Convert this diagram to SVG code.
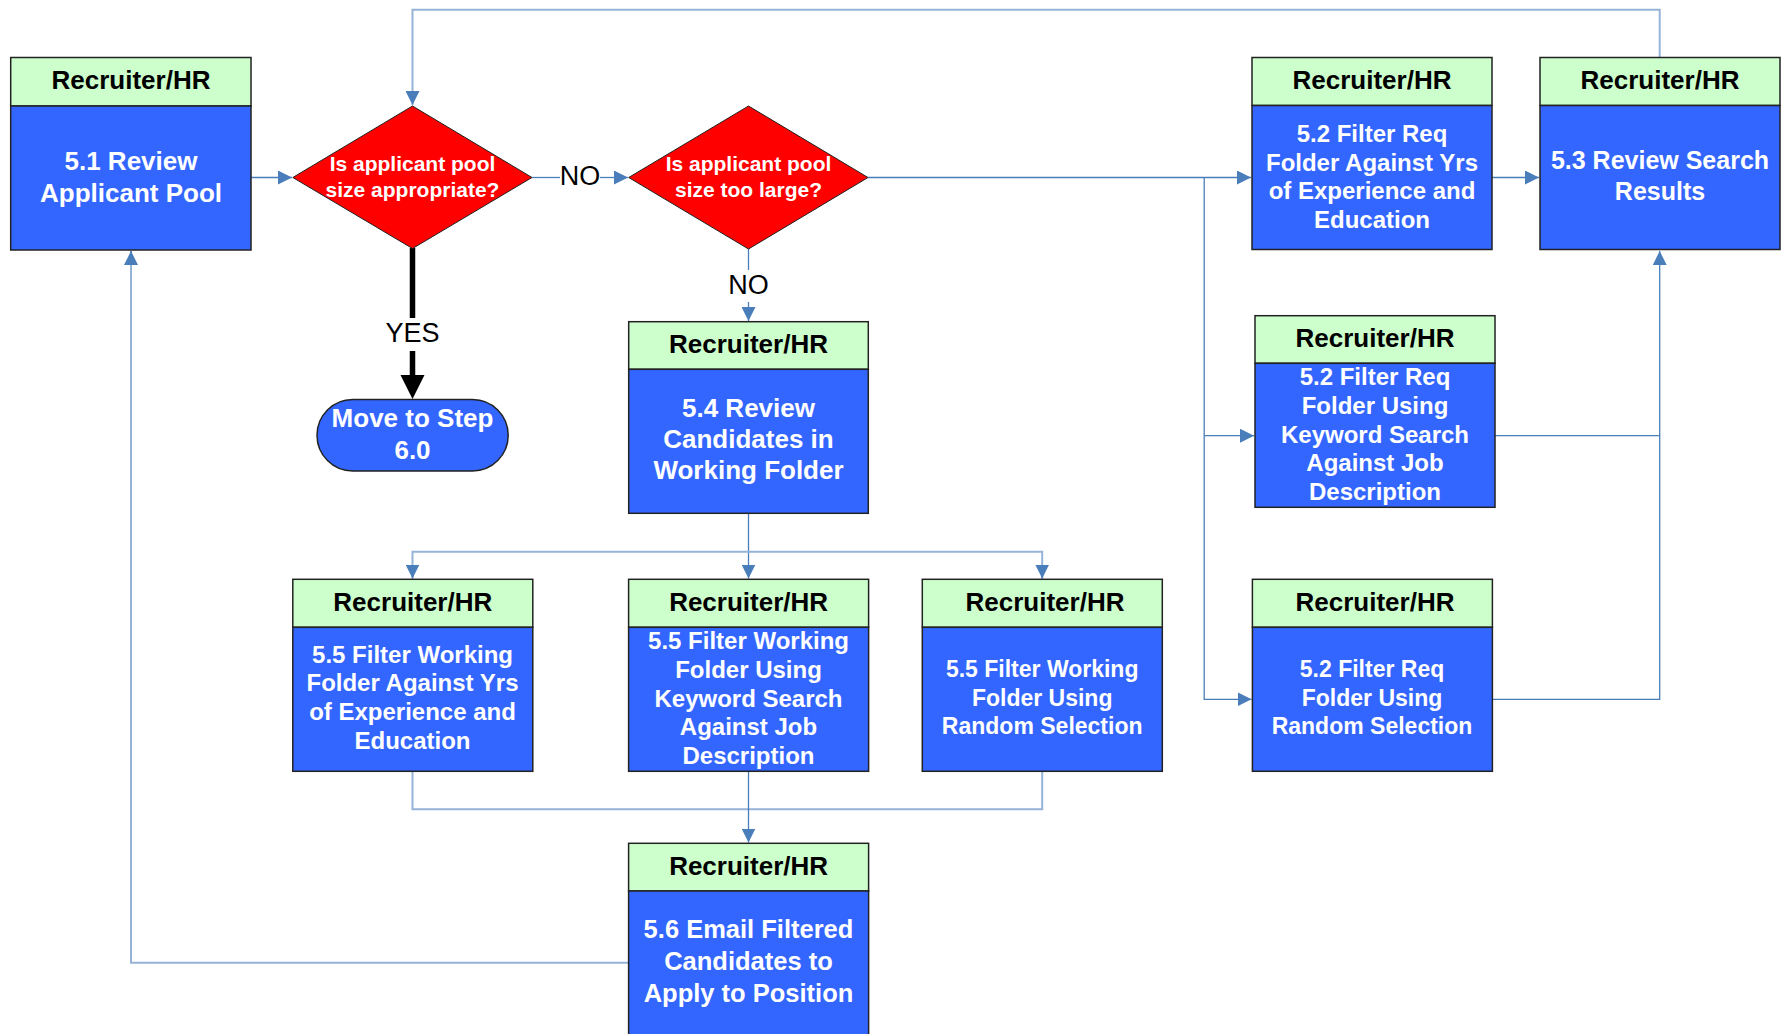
<svg xmlns="http://www.w3.org/2000/svg" width="1787" height="1034" viewBox="0 0 1787 1034">
<style>
.hd{fill:#ccffcc;stroke:#222;stroke-width:1.5}
.bd{fill:#3366ff;stroke:#222;stroke-width:1.5}
.dm{fill:#ff0000;stroke:#222;stroke-width:1}
.ht{font-family:"Liberation Sans",Arial,sans-serif;font-weight:bold;font-size:26px;fill:#000;text-anchor:middle;dominant-baseline:central}
.bt{font-family:"Liberation Sans",Arial,sans-serif;font-weight:bold;fill:#fff;text-anchor:middle;dominant-baseline:central}
.lb{font-family:"Liberation Sans",Arial,sans-serif;font-size:27px;fill:#000;text-anchor:middle;dominant-baseline:central}
.ht,.bt,.lb{transform:translate(0px,-1.2px)}
.cd{fill:none;stroke:#4a7ebb;stroke-width:1.3}
.cl{fill:none;stroke:#95b3d7;stroke-width:2}
</style>
<defs>
<marker id="ar" markerUnits="userSpaceOnUse" markerWidth="14" markerHeight="14" viewBox="0 0 14 14" refX="14" refY="7" orient="auto">
<path d="M0,0 L14,7 L0,14 Z" fill="#4a7ebb"/>
</marker>
</defs>

<g id="connectors">
<path class="cd" d="M251,177.5 H292" marker-end="url(#ar)"/>
<path class="cd" d="M532,177.5 H560"/>
<path class="cd" d="M600,177.5 H628" marker-end="url(#ar)"/>
<path class="cd" d="M868,177.5 H1251" marker-end="url(#ar)"/>
<path class="cd" d="M1204.2,177.5 V699.3 H1251.5" marker-end="url(#ar)"/>
<path class="cd" d="M1204.2,435.7 H1254" marker-end="url(#ar)"/>
<path class="cd" d="M1492,177.5 H1539" marker-end="url(#ar)"/>
<path class="cd" d="M1495,435.7 H1659.7 V251" marker-end="url(#ar)"/>
<path class="cd" d="M1492,699.3 H1659.7 V435.7"/>
<path class="cl" d="M1659.7,57.5 V9.7 H412.5 V105" marker-end="url(#ar)"/>
<path class="cd" d="M748.5,249 V270"/>
<path class="cd" d="M748.5,302 V321" marker-end="url(#ar)"/>
<path class="cd" d="M748.5,513.3 V578.5" marker-end="url(#ar)"/>
<path class="cl" d="M412.5,578.5 V551.7 H1042.2 V578.5"/>
<path class="cd" d="M412.5,565 V578.5" marker-end="url(#ar)"/>
<path class="cd" d="M1042.2,565 V578.5" marker-end="url(#ar)"/>
<path class="cl" d="M412.5,771.3 V809.3 H1042.2 V771.3"/>
<path class="cd" d="M748.5,771.3 V842.5" marker-end="url(#ar)"/>
<path class="cl" d="M628.6,962.7 H131 V251"/>
<path class="cd" d="M131,265 V251" marker-end="url(#ar)"/>
<path fill="none" stroke="#000" stroke-width="5.5" d="M412.5,248 V318 M412.5,351 V377"/>
<path fill="#000" d="M400.5,375 H424.5 L412.5,399 Z"/>
<text class="lb" x="580" y="177">NO</text>
<text class="lb" x="748.5" y="286">NO</text>
<text class="lb" x="412.5" y="334">YES</text>
</g>

<g id="n51">
<rect class="hd" x="10.7" y="57.5" width="240.3" height="48.5"/>
<rect class="bd" x="10.7" y="106" width="240.3" height="144"/>
<text class="ht" x="131" y="81.7">Recruiter/HR</text>
<text class="bt" font-size="26" x="131"><tspan x="131" y="162">5.1 Review</tspan><tspan x="131" y="194">Applicant Pool</tspan></text>
</g>

<g id="d1">
<polygon class="dm" points="412.5,106 532,177.5 412.5,248.5 292.8,177.5"/>
<text class="bt" font-size="21" x="412.5"><tspan x="412.5" y="164">Is applicant pool</tspan><tspan x="412.5" y="190">size appropriate?</tspan></text>
</g>

<g id="d2">
<polygon class="dm" points="748.5,106 868,177.5 748.5,249 628.7,177.5"/>
<text class="bt" font-size="21" x="748.5"><tspan x="748.5" y="164">Is applicant pool</tspan><tspan x="748.5" y="190">size too large?</tspan></text>
</g>

<g id="t60">
<rect class="bd" x="317" y="399.5" width="191.2" height="71.5" rx="35.7" ry="35.7"/>
<text class="bt" font-size="26" x="412.5"><tspan x="412.5" y="419.5">Move to Step</tspan><tspan x="412.5" y="451">6.0</tspan></text>
</g>

<g id="n52a">
<rect class="hd" x="1252" y="57.5" width="240" height="48"/>
<rect class="bd" x="1252" y="105.5" width="240" height="144"/>
<text class="ht" x="1372" y="81.5">Recruiter/HR</text>
<text class="bt" font-size="24" x="1372"><tspan x="1372" y="134.3">5.2 Filter Req</tspan><tspan x="1372" y="163">Folder Against Yrs</tspan><tspan x="1372" y="191.7">of Experience and</tspan><tspan x="1372" y="220.3">Education</tspan></text>
</g>

<g id="n53">
<rect class="hd" x="1540" y="57.5" width="240" height="48"/>
<rect class="bd" x="1540" y="105.5" width="240" height="144"/>
<text class="ht" x="1660" y="81.5">Recruiter/HR</text>
<text class="bt" font-size="25" x="1660"><tspan x="1660" y="161">5.3 Review Search</tspan><tspan x="1660" y="192.7">Results</tspan></text>
</g>

<g id="n52b">
<rect class="hd" x="1255" y="315.7" width="240" height="47.6"/>
<rect class="bd" x="1255" y="363.3" width="240" height="144"/>
<text class="ht" x="1375" y="339.5">Recruiter/HR</text>
<text class="bt" font-size="24" x="1375"><tspan x="1375" y="377.7">5.2 Filter Req</tspan><tspan x="1375" y="406.4">Folder Using</tspan><tspan x="1375" y="435">Keyword Search</tspan><tspan x="1375" y="463.7">Against Job</tspan><tspan x="1375" y="492.3">Description</tspan></text>
</g>

<g id="n54">
<rect class="hd" x="628.7" y="321.7" width="239.6" height="47.6"/>
<rect class="bd" x="628.7" y="369.3" width="239.6" height="144"/>
<text class="ht" x="748.5" y="345.5">Recruiter/HR</text>
<text class="bt" font-size="26" x="748.5"><tspan x="748.5" y="409.3">5.4 Review</tspan><tspan x="748.5" y="440.5">Candidates in</tspan><tspan x="748.5" y="471.7">Working Folder</tspan></text>
</g>

<g id="n55a">
<rect class="hd" x="292.8" y="579.3" width="240" height="48"/>
<rect class="bd" x="292.8" y="627.3" width="240" height="144"/>
<text class="ht" x="412.8" y="603.3">Recruiter/HR</text>
<text class="bt" font-size="24" x="412.5"><tspan x="412.5" y="655">5.5 Filter Working</tspan><tspan x="412.5" y="683.7">Folder Against Yrs</tspan><tspan x="412.5" y="712.3">of Experience and</tspan><tspan x="412.5" y="741">Education</tspan></text>
</g>

<g id="n55b">
<rect class="hd" x="628.6" y="579.3" width="240" height="48"/>
<rect class="bd" x="628.6" y="627.3" width="240" height="144"/>
<text class="ht" x="748.6" y="603.3">Recruiter/HR</text>
<text class="bt" font-size="24" x="748.5"><tspan x="748.5" y="641.7">5.5 Filter Working</tspan><tspan x="748.5" y="670.3">Folder Using</tspan><tspan x="748.5" y="699">Keyword Search</tspan><tspan x="748.5" y="727.7">Against Job</tspan><tspan x="748.5" y="756.3">Description</tspan></text>
</g>

<g id="n55c">
<rect class="hd" x="922.3" y="579.3" width="240" height="48"/>
<rect class="bd" x="922.3" y="627.3" width="240" height="144"/>
<text class="ht" x="1045" y="603.3">Recruiter/HR</text>
<text class="bt" font-size="23" x="1042.2"><tspan x="1042.2" y="670.3">5.5 Filter Working</tspan><tspan x="1042.2" y="699">Folder Using</tspan><tspan x="1042.2" y="727.7">Random Selection</tspan></text>
</g>

<g id="n52c">
<rect class="hd" x="1252.4" y="579.3" width="240" height="48"/>
<rect class="bd" x="1252.4" y="627.3" width="240" height="144"/>
<text class="ht" x="1375" y="603.3">Recruiter/HR</text>
<text class="bt" font-size="23" x="1372"><tspan x="1372" y="670.3">5.2 Filter Req</tspan><tspan x="1372" y="699">Folder Using</tspan><tspan x="1372" y="727.7">Random Selection</tspan></text>
</g>

<g id="n56">
<rect class="hd" x="628.6" y="843.3" width="240" height="47.7"/>
<rect class="bd" x="628.6" y="891" width="240" height="150"/>
<text class="ht" x="748.6" y="867">Recruiter/HR</text>
<text class="bt" font-size="25.5" x="748.5"><tspan x="748.5" y="930">5.6 Email Filtered</tspan><tspan x="748.5" y="962.5">Candidates to</tspan><tspan x="748.5" y="994.5">Apply to Position</tspan></text>
</g>
</svg>
